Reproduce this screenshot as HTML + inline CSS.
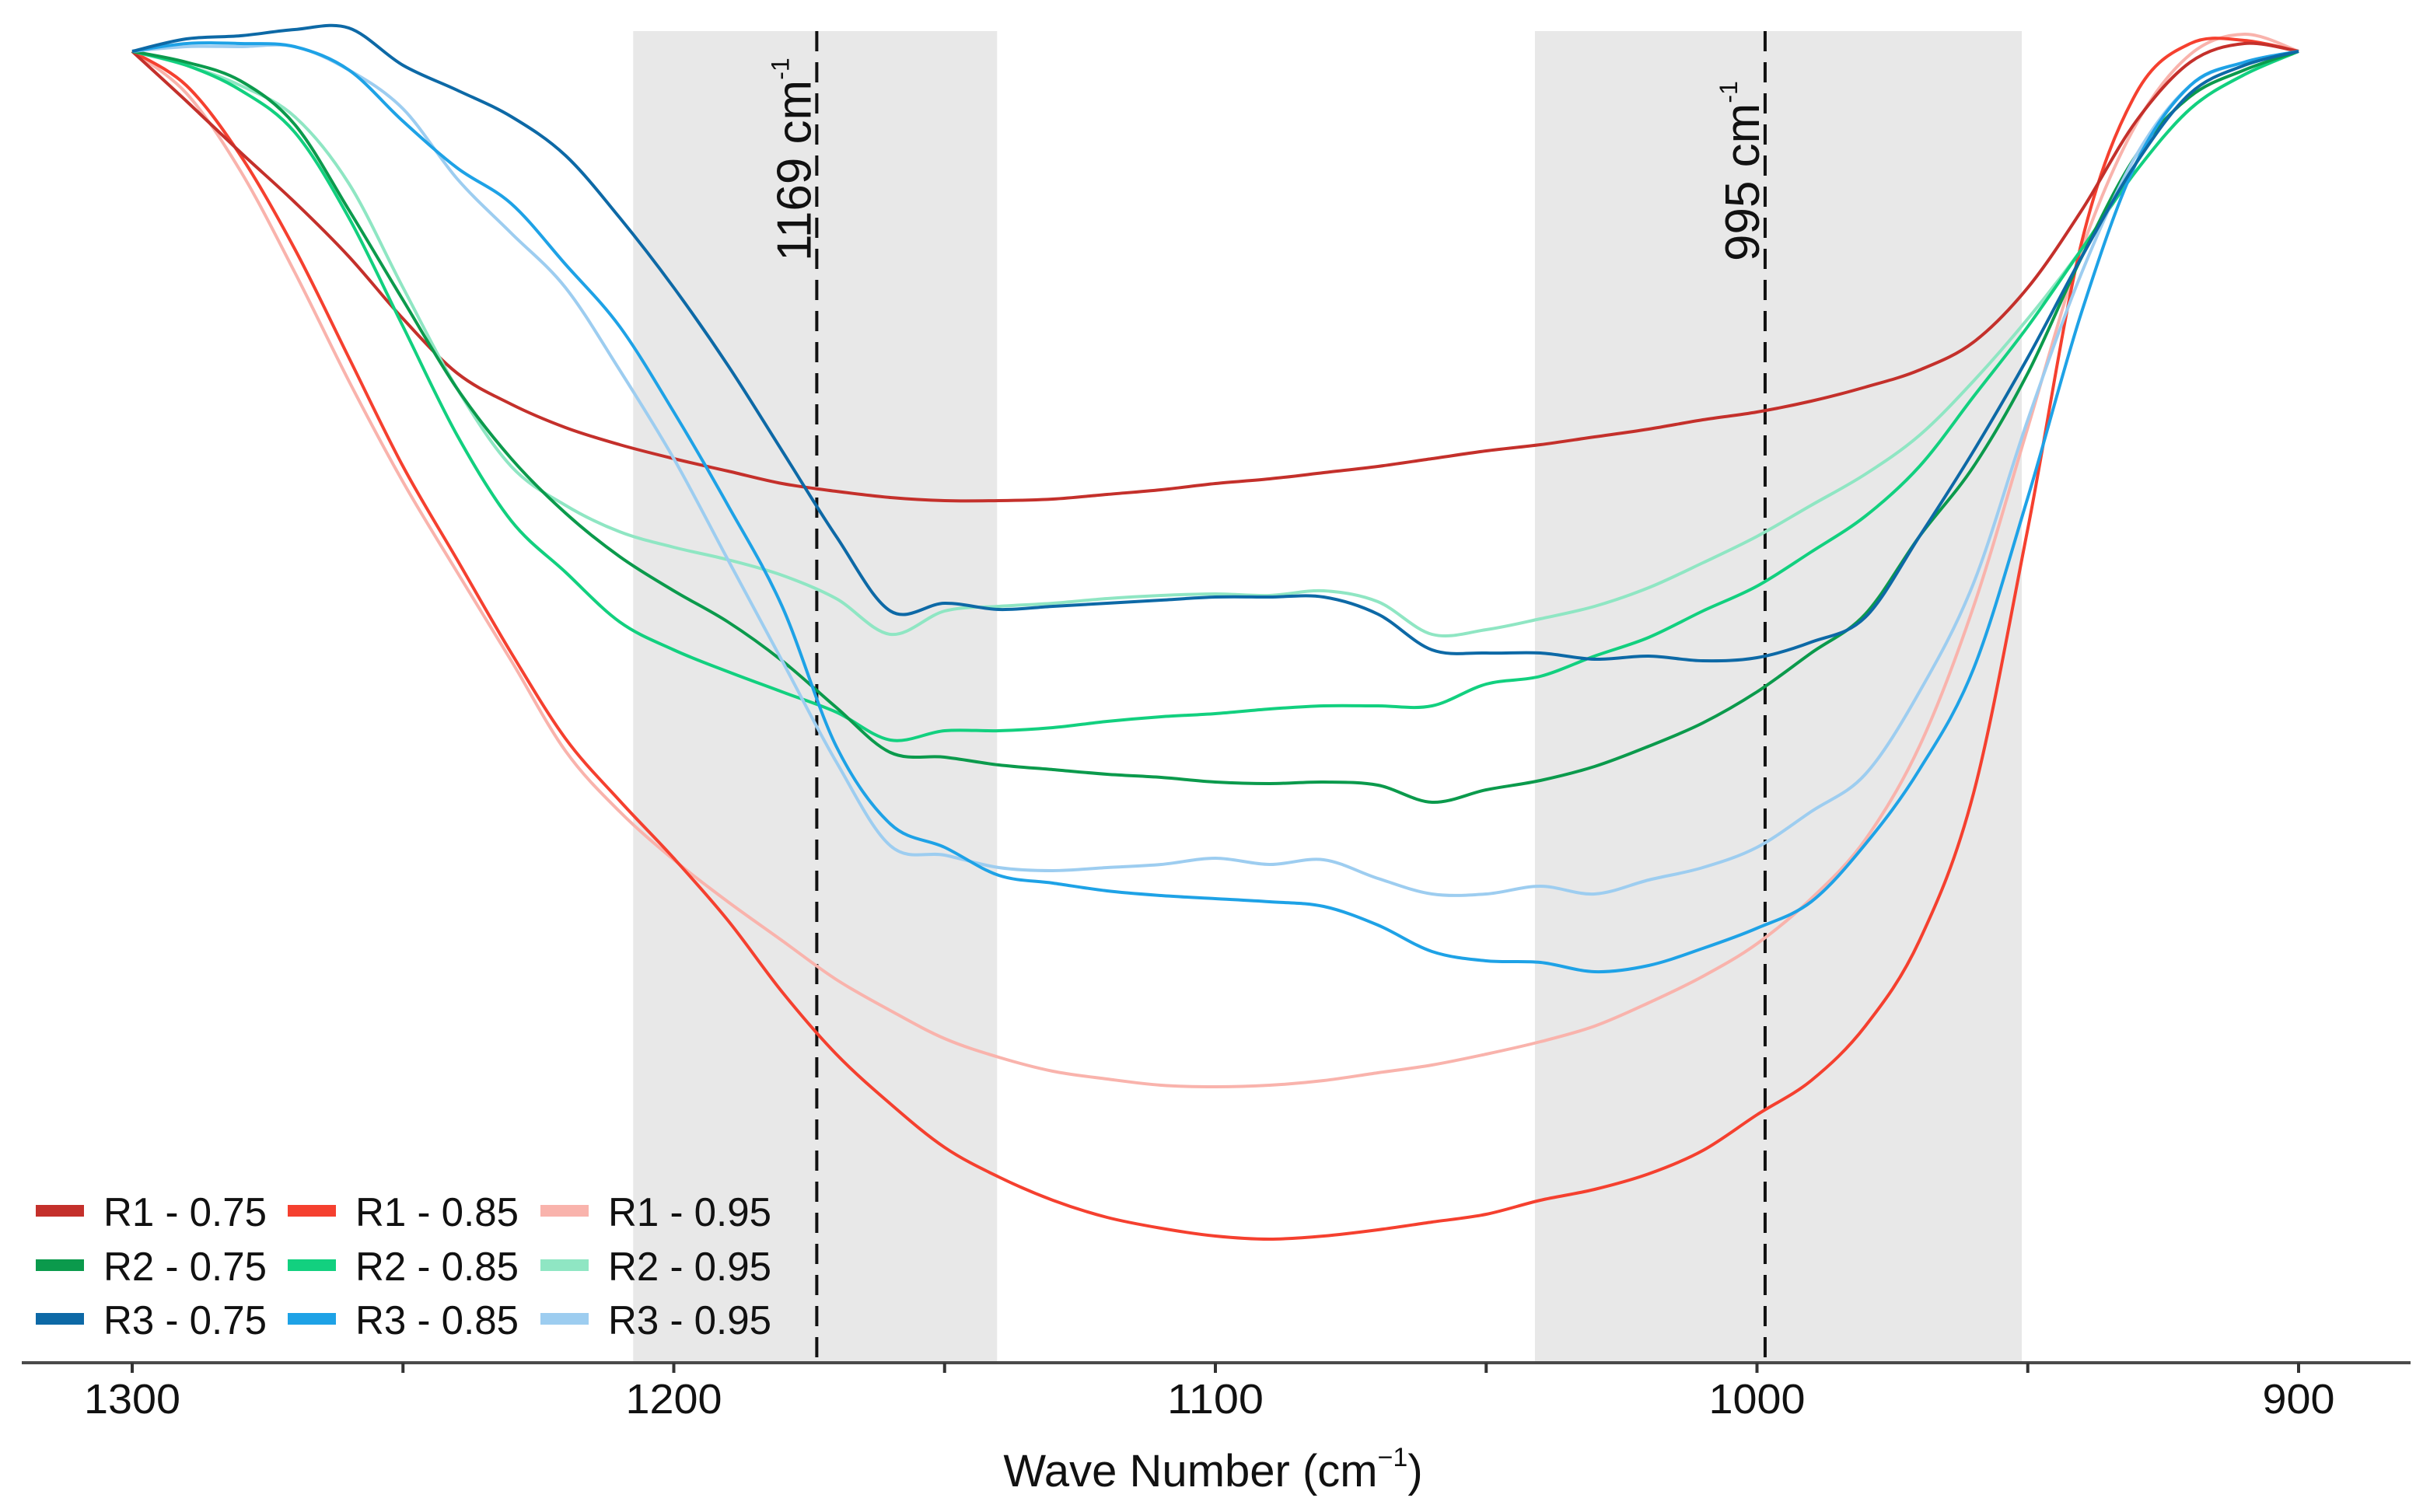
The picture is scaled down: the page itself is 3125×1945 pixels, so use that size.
<!DOCTYPE html>
<html><head><meta charset="utf-8"><style>
html,body{margin:0;padding:0;background:#fff;}
svg{display:block;font-family:"Liberation Sans",Arial,sans-serif;}
</style></head><body>
<svg id="chart" width="3125" height="1945" viewBox="0 0 3125 1945" xmlns="http://www.w3.org/2000/svg">
<g id="bands"></g>
<g id="markers"></g>
<g id="series"></g>
<g id="axis"></g>
<g id="legend"></g>
</svg>
<script>
const wavenumbers = [1300,1290,1280,1270,1260,1250,1240,1230,1220,1210,1200,1190,1180,1170,1160,1150,1140,1130,1120,1110,1100,1090,1080,1070,1060,1050,1040,1030,1020,1010,1000,990,980,970,960,950,940,930,920,910,900];
const seriesNames = ["R1 - 0.75","R1 - 0.85","R1 - 0.95","R2 - 0.75","R2 - 0.85","R2 - 0.95","R3 - 0.75","R3 - 0.85","R3 - 0.95"];
const r1_075 = [33,65,98,130,165,205,240,260,275,286,295,303,311,316,320,322,322,321,318,315,311,308,304,300,295,290,286,281,276,270,265,258,249,238,220,185,135,78,40,28,33];
const r1_085 = [33,55,100,160,230,300,360,420,475,515,552,592,638,678,710,738,757,772,783,790,795,797,795,791,786,781,772,765,755,740,717,695,660,605,510,340,155,60,28,26,33];
const r1_095 = [33,60,110,175,245,310,368,425,483,522,553,580,605,630,650,668,680,689,694,698,699,698,695,690,685,678,670,660,645,628,607,578,540,480,390,275,160,80,35,22,33];
const r2_075 = [33,40,52,80,135,193,250,295,330,358,380,400,425,455,484,487,492,495,498,500,503,504,503,505,516,508,502,493,480,465,445,420,395,345,300,240,165,100,62,45,33];
const r2_085 = [33,42,58,85,140,210,280,335,368,400,418,432,445,458,476,470,470,468,464,461,459,456,454,454,454,440,435,422,410,393,377,355,332,300,255,210,160,110,70,48,33];
const r2_095 = [33,42,55,75,118,185,250,300,325,342,352,360,370,385,408,393,390,388,385,383,382,383,380,387,408,405,398,390,378,362,345,325,305,280,245,205,160,110,70,48,33];
const r3_075 = [33,25,23,19,18,42,58,75,100,140,185,235,290,345,393,388,392,390,388,386,384,384,384,395,418,420,420,424,422,425,423,413,397,345,290,230,165,105,60,42,33];
const r3_085 = [33,28,28,30,45,78,108,131,170,210,265,325,390,480,530,545,563,568,573,576,578,580,583,595,612,618,619,625,621,610,597,580,543,495,430,320,200,105,55,40,33];
const r3_095 = [33,30,30,30,45,70,115,150,185,238,295,360,425,490,544,550,558,560,558,556,552,556,553,565,575,575,570,575,566,558,545,522,498,445,375,270,175,100,55,40,33];
const seriesValues = [r1_075,r1_085,r1_095,r2_075,r2_085,r2_095,r3_075,r3_085,r3_095];
const seriesColors = ["#c4302b","#f5402f","#f9b3ac","#0b9a4c","#12d07f","#8fe6c3","#0d69a6","#1ea2e6","#9dcdf0"];
const tickValues = [1300,1250,1200,1150,1100,1050,1000,950,900];
const tickLabels = ["1300","","1200","","1100","","1000","","900"];
const bandStarts = [1207.5,1041];
const bandEnds = [1140.3,951.1];
const markerPositions = [1173.6,998.5];
const markerLabels = ["1169 cm","995 cm"];

const NS = "http://www.w3.org/2000/svg";
function xScale(w){ return 170 + (1300 - w) * 6.965; }
function yScale(v){ return v * 2; }
const AXIS_Y = 1753, TOP = 40;
function mk(tag, attrs, parent){ const e = document.createElementNS(NS, tag); for (const k in attrs) e.setAttribute(k, attrs[k]); parent.appendChild(e); return e; }

const bands = document.getElementById('bands');
for (let i = 0; i < bandStarts.length; i++) {
  const x0 = xScale(bandStarts[i]), x1 = xScale(bandEnds[i]);
  const r = mk('rect', {x: x0, y: TOP, width: x1 - x0, height: AXIS_Y - TOP, fill: '#e8e8e8'}, bands);
  
  
}

const markers = document.getElementById('markers');
for (let i = 0; i < markerPositions.length; i++) {
  const x = xScale(markerPositions[i]);
  const l = mk('line', {x1: x, x2: x, y1: TOP, y2: AXIS_Y, stroke: '#111', 'stroke-width': 4, 'stroke-dasharray': '26 14'}, markers);
  
  
  const t = mk('text', {transform: `translate(${x - 8},${336}) rotate(-90)`, 'font-size': 62, fill: '#111'}, markers);
  
  
  t.textContent = markerLabels[i];
  const s = mk('tspan', {'font-size': 32, dy: -28}, t);
  s.textContent = '-1';
}

function pathFor(vals){
  const pts = vals.map((v, i) => [xScale(wavenumbers[i]), yScale(v)]);
  let d = `M${pts[0][0]},${pts[0][1]}`;
  for (let i = 0; i < pts.length - 1; i++) {
    const p0 = pts[Math.max(0, i - 1)], p1 = pts[i], p2 = pts[i + 1], p3 = pts[Math.min(pts.length - 1, i + 2)];
    const c1x = p1[0] + (p2[0] - p0[0]) / 6, c1y = p1[1] + (p2[1] - p0[1]) / 6;
    const c2x = p2[0] - (p3[0] - p1[0]) / 6, c2y = p2[1] - (p3[1] - p1[1]) / 6;
    d += ` C${c1x.toFixed(1)},${c1y.toFixed(1)} ${c2x.toFixed(1)},${c2y.toFixed(1)} ${p2[0].toFixed(1)},${p2[1].toFixed(1)}`;
  }
  return d;
}
const series = document.getElementById('series');
const order = [2,1,0,5,4,3,8,7,6];
for (const i of order) {
  const p = mk('path', {d: pathFor(seriesValues[i]), fill: 'none', stroke: seriesColors[i], 'stroke-width': 4, 'stroke-linejoin': 'round'}, series);
  
  
}

const axis = document.getElementById('axis');
const al = mk('line', {x1: 28, x2: 3100, y1: AXIS_Y, y2: AXIS_Y, stroke: '#4a4a4a', 'stroke-width': 4}, axis);


for (let i = 0; i < tickValues.length; i++) {
  const x = xScale(tickValues[i]);
  const tk = mk('line', {x1: x, x2: x, y1: AXIS_Y, y2: AXIS_Y + 13, stroke: '#333', 'stroke-width': 4}, axis);
  
  
  if (tickLabels[i]) {
    const t = mk('text', {x: x, y: 1818, 'text-anchor': 'middle', 'font-size': 54, fill: '#111', textLength: tickLabels[i].length * 31, lengthAdjust: 'spacingAndGlyphs'}, axis);
    
    
    t.textContent = tickLabels[i];
  }
}
const title = mk('text', {x: 1560, y: 1912, 'text-anchor': 'middle', 'font-size': 58, fill: '#111'}, axis);


title.textContent = 'Wave Number (cm';
const sup = mk('tspan', {'font-size': 34, dy: -26}, title);
sup.textContent = '−1';
const cl = mk('tspan', {dy: 26}, title);
cl.textContent = ')';

const legend = document.getElementById('legend');
const colX = [46, 370, 695];
const rowY = [1558, 1628, 1697];
for (let i = 0; i < seriesNames.length; i++) {
  const col = i % 3, row = Math.floor(i / 3);
  const g = mk('g', {}, legend);
  
  
  mk('rect', {x: colX[col], y: rowY[row] - 8, width: 62, height: 15, fill: seriesColors[i]}, g);
  const t = mk('text', {x: colX[col] + 87, y: rowY[row] + 19, 'font-size': 52, fill: '#111', textLength: 210, lengthAdjust: 'spacingAndGlyphs'}, g);
  t.textContent = seriesNames[i];
}
</script>
</body></html>
